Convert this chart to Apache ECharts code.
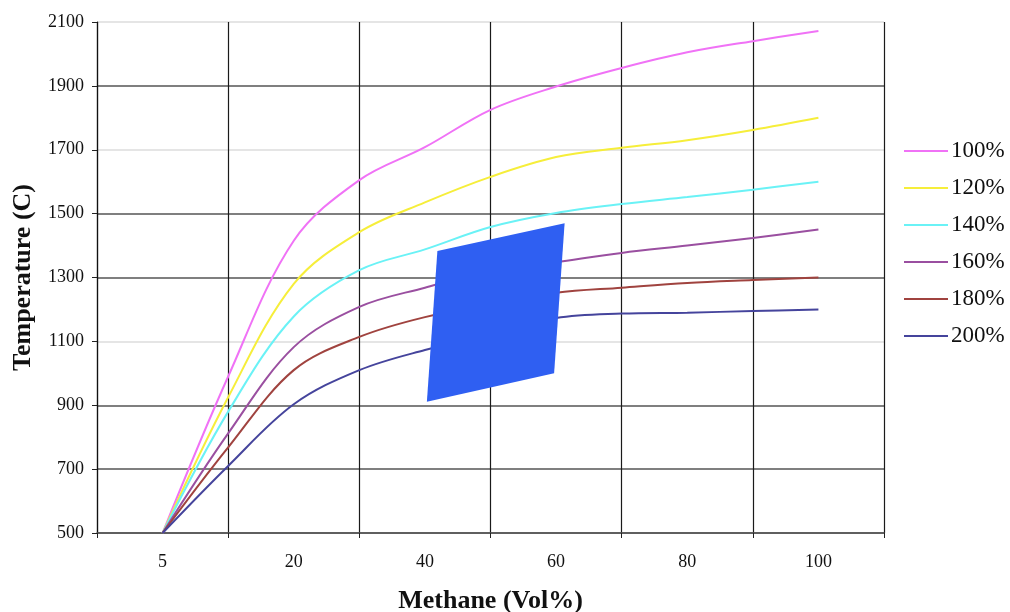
<!DOCTYPE html>
<html>
<head>
<meta charset="utf-8">
<title>Methane flame temperature</title>
<script src="https://cdn.jsdelivr.net/npm/echarts@6/dist/echarts.min.js"></script>
<style>
  html, body { margin: 0; padding: 0; background: #fff; }
  #chart { width: 1010px; height: 612px; }
</style>
</head>
<body>
<div id="chart"></div>
<script>
// Methane content (Vol%) at each sample point
const methaneVol = ['5', '10', '20', '30', '40', '50', '60', '70', '80', '90', '100'];

// Temperature (C) per theoretical-air level
const air100 = [500, 990, 1415, 1605, 1708, 1825, 1898, 1956, 2005, 2040, 2072];
const air120 = [500, 925, 1280, 1442, 1535, 1615, 1677, 1706, 1730, 1762, 1800];
const air140 = [500, 880, 1178, 1323, 1388, 1458, 1502, 1530, 1552, 1575, 1600];
const air160 = [500, 812, 1082, 1208, 1268, 1320, 1348, 1377, 1400, 1424, 1450];
const air180 = [500, 768, 1010, 1114, 1176, 1215, 1252, 1268, 1283, 1292, 1300];
const air200 = [500, 710, 903, 1010, 1073, 1122, 1173, 1187, 1190, 1195, 1200];

const seriesNames = ['100%', '120%', '140%', '160%', '180%', '200%'];
const seriesValues = [air100, air120, air140, air160, air180, air200];
const seriesColors = ['#f072f6', '#f6ee3a', '#6af2f6', '#9a4fa0', '#a0433f', '#45449c'];

// Shaded operating window, corners as [axis position, temperature]
const patchCorners = [[5.19, 1383], [7.13, 1470], [6.97, 1000], [5.03, 911]];

// One empty slot on each side of the sample points
const xCategories = [''].concat(methaneVol, ['']);
const pad = arr => [null].concat(arr, [null]);

const serif = 'Liberation Serif';

const chart = echarts.init(document.getElementById('chart'));

const lineSeries = seriesNames.map((name, i) => ({
  name: name,
  type: 'line',
  data: pad(seriesValues[i]),
  smooth: 0.35,
  symbol: 'none',
  connectNulls: false,
  lineStyle: { color: seriesColors[i], width: 2 },
  itemStyle: { color: seriesColors[i] },
  z: 3
}));

chart.setOption({
  animation: false,
  backgroundColor: '#ffffff',
  grid: {
    left: 97, right: 126, top: 22, bottom: 79,
    containLabel: false,
    outerBoundsMode: 'none'
  },
  legend: {
    data: seriesNames,
    orient: 'vertical',
    left: 899,
    top: 134,
    icon: 'rect',
    itemWidth: 44,
    itemHeight: 2,
    itemGap: 13,
    textStyle: { fontFamily: serif, fontSize: 23, color: '#111', lineHeight: 24, padding: [0, 0, 0, -2] }
  },
  xAxis: [
    {
      type: 'category',
      data: xCategories,
      boundaryGap: false,
      name: 'Methane (Vol%)',
      nameLocation: 'middle',
      nameGap: 55,
      nameTextStyle: { fontFamily: serif, fontSize: 26, fontWeight: 'bold', color: '#111' },
      axisLine: { show: true, lineStyle: { color: '#555', width: 1.5 } },
      axisTick: {
        show: true,
        length: 5,
        interval: idx => idx % 2 === 0,
        lineStyle: { color: '#222', width: 1 }
      },
      axisLabel: {
        interval: idx => idx % 2 === 1,
        margin: 20,
        fontFamily: serif,
        fontSize: 18,
        color: '#111'
      },
      splitLine: {
        show: true,
        interval: idx => idx % 2 === 0,
        lineStyle: { color: '#1a1a1a', width: 1.2 }
      }
    },
    {
      type: 'value',
      min: 0,
      max: 12,
      show: false
    }
  ],
  yAxis: {
    type: 'value',
    min: 500,
    max: 2100,
    interval: 200,
    name: 'Temperature (C)',
    nameLocation: 'middle',
    nameGap: 61,
    nameTextStyle: { fontFamily: serif, fontSize: 26, fontWeight: 'bold', color: '#111' },
    axisLine: { show: true, lineStyle: { color: '#111', width: 1.2 } },
    axisTick: { show: true, length: 5, lineStyle: { color: '#222', width: 1 } },
    axisLabel: {
      margin: 13,
      fontFamily: serif,
      fontSize: 18,
      color: '#111',
      formatter: v => String(v)
    },
    splitLine: {
      show: true,
      lineStyle: {
        color: ['#555', '#555', '#555', '#dcdcdc', '#555', '#555', '#dcdcdc', '#555', '#dcdcdc'],
        width: 1.6
      }
    }
  },
  series: lineSeries.concat([{
    name: 'window',
    type: 'custom',
    xAxisIndex: 1,
    yAxisIndex: 0,
    data: [[0]],
    z: 5,
    renderItem: (params, api) => ({
      type: 'polygon',
      shape: { points: patchCorners.map(p => api.coord(p)) },
      style: { fill: '#2f5ff2' }
    })
  }])
});
</script>
</body>
</html>
